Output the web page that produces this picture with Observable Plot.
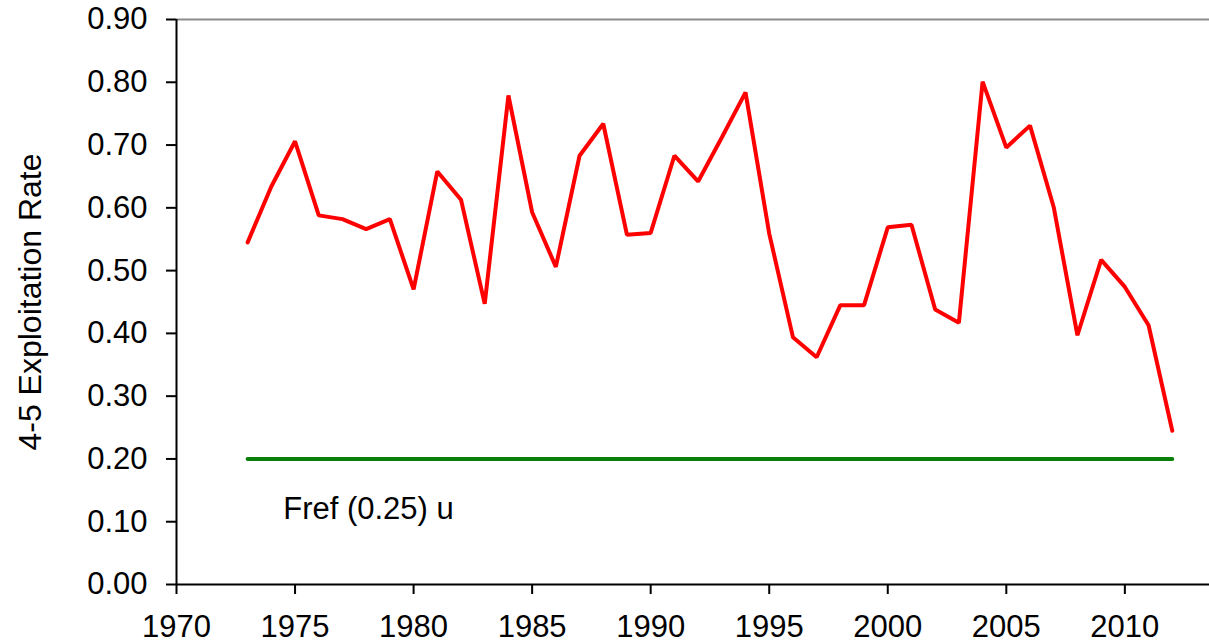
<!DOCTYPE html>
<html>
<head>
<meta charset="utf-8">
<script src="https://cdn.jsdelivr.net/npm/d3@7"></script>
<script src="https://cdn.jsdelivr.net/npm/@observablehq/plot@0.6"></script>
<style>
  html, body { margin: 0; padding: 0; background: #fff; }
  #chart svg { display: block; }
</style>
</head>
<body>
<div id="chart"></div>
<script>
const years = [1973,1974,1975,1976,1977,1978,1979,1980,1981,1982,1983,1984,1985,1986,1987,1988,1989,1990,1991,1992,1993,1994,1995,1996,1997,1998,1999,2000,2001,2002,2003,2004,2005,2006,2007,2008,2009,2010,2011,2012];
const exploitation = [0.545,0.634,0.706,0.588,0.582,0.566,0.582,0.470,0.658,0.613,0.447,0.779,0.593,0.506,0.683,0.734,0.557,0.560,0.683,0.642,0.712,0.784,0.559,0.394,0.362,0.445,0.445,0.569,0.573,0.438,0.417,0.801,0.696,0.731,0.601,0.397,0.517,0.474,0.413,0.245];
const refValue = 0.20;
const refLabel = "Fref (0.25) u";
const yLabel = "4-5 Exploitation Rate";
const xTicks = [1970,1975,1980,1985,1990,1995,2000,2005,2010];
const yTicks = [0,0.1,0.2,0.3,0.4,0.5,0.6,0.7,0.8,0.9];

const series = years.map((year, i) => ({year, value: exploitation[i]}));
const refLine = [{year: years[0], value: refValue}, {year: years[years.length - 1], value: refValue}];

const font = "'Liberation Sans', Arial, sans-serif";

const chart = Plot.plot({
  width: 1209,
  height: 642,
  marginLeft: 176,
  marginRight: 0,
  marginTop: 19,
  marginBottom: 58,
  style: {fontFamily: font, fontSize: "31px", color: "#000", background: "#fff", overflow: "visible"},
  x: {domain: [1970, 2013.57], ticks: xTicks, tickFormat: d => String(d), tickSize: 10, tickPadding: 20, label: null},
  y: {domain: [0, 0.9], ticks: yTicks, tickFormat: d => d.toFixed(2), tickSize: 10, tickPadding: 19, label: null},
  marks: [
    Plot.ruleY([0.9], {stroke: "#8c8c8c", strokeWidth: 2}),
    Plot.line(refLine, {x: "year", y: "value", stroke: "#0a800a", strokeWidth: 4}),
    Plot.line(series, {x: "year", y: "value", stroke: "#ff0000", strokeWidth: 4, strokeLinejoin: "miter"}),
    Plot.text([refLabel], {x: () => years[0] + 1.5, y: () => refValue - 0.08, text: d => d, textAnchor: "start", fill: "#000", fontSize: 31}),
    Plot.text([yLabel], {frameAnchor: "left", dx: -146, rotate: -90, textAnchor: "middle", text: d => d, fill: "#000", fontSize: 32}),
    Plot.ruleX([1970], {stroke: "#000", strokeWidth: 2}),
    Plot.ruleY([0], {stroke: "#000", strokeWidth: 2}),
    Plot.axisX({ticks: xTicks, tickFormat: d => String(d), tickSize: 10, tickPadding: 20, stroke: "#000", strokeWidth: 2, label: null}),
    Plot.axisY({ticks: yTicks, tickFormat: d => d.toFixed(2), tickSize: 10, tickPadding: 19, stroke: "#000", strokeWidth: 2, label: null})
  ]
});
document.getElementById("chart").appendChild(chart);
</script>
</body>
</html>
